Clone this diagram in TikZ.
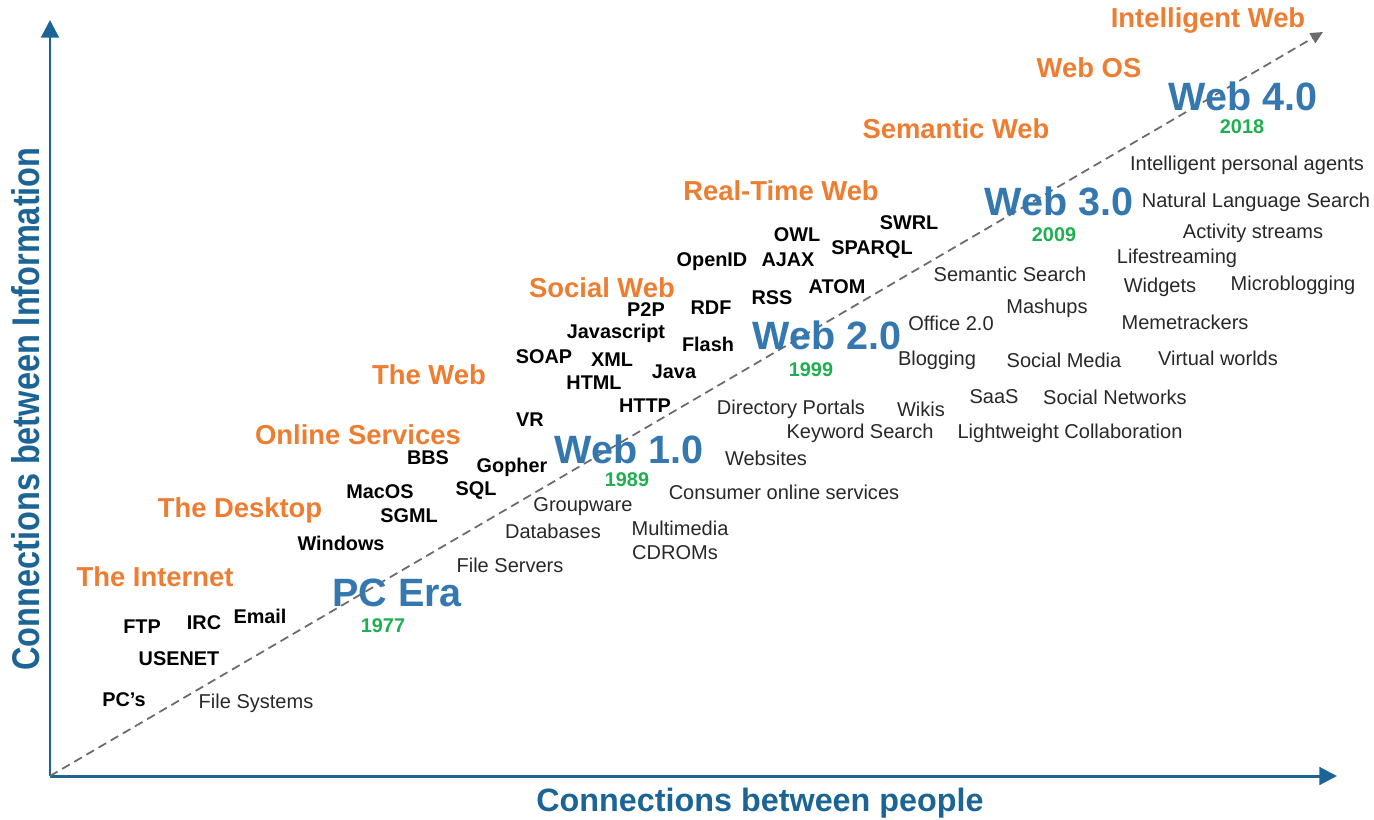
\documentclass[tikz,border=0pt]{standalone}
\usepackage{fontspec}
\setmainfont{Liberation Sans}
\usetikzlibrary{arrows.meta}

\definecolor{axisblue}{RGB}{28,100,150}
\definecolor{erablue}{RGB}{52,120,175}
\definecolor{stageorange}{RGB}{237,125,49}
\definecolor{yeargreen}{RGB}{30,175,80}
\definecolor{termgray}{RGB}{40,40,40}

\begin{document}
\begin{tikzpicture}[x=0.02cm,y=-0.02cm,
  axis/.style={draw=axisblue,line width=1.7pt,-{Triangle[length=10pt,width=10pt]}},
  trend/.style={draw=black!58,line width=1pt,dash pattern=on 5pt off 3pt,-{Triangle[length=7pt,width=6.5pt]}},
  axislabel/.style={text=axisblue,font=\fontsize{18.4}{20}\selectfont\bfseries},
  stage/.style={text=stageorange,font=\fontsize{15.6}{18}\selectfont\bfseries},
  era/.style={text=erablue,font=\fontsize{22.5}{26}\selectfont\bfseries},
  year/.style={text=yeargreen,font=\fontsize{11.3}{13}\selectfont\bfseries},
  tech/.style={text=black,font=\fontsize{11.3}{13}\selectfont\bfseries},
  app/.style={text=termgray,font=\fontsize{11.4}{13}\selectfont}]
\useasboundingbox (0,0) rectangle (1374,819);

% Axes
\coordinate (origin) at (50,776);
\coordinate (ytop) at (50,20);
\coordinate (xend) at (1337,776);
\coordinate (trendend) at (1323,32);
\draw[axis] (origin) -- (ytop);
\draw[axis] (origin) -- (xend);
\draw[trend] (origin) -- (trendend);

% Axis titles
\node[axislabel] (xlabel) at (760,803) {Connections between people};
\node[axislabel,rotate=90,font=\fontsize{22}{24}\selectfont\bfseries] (ylabel) at (26,409)
  {\scalebox{0.84}[1]{Connections between Information}};

% Stages of the web
\node[stage] (intweb) at (1208,20) {Intelligent Web};
\node[stage] (webos) at (1089,68) {Web OS};
\node[stage] (semweb) at (956,129) {Semantic Web};
\node[stage] (rtweb) at (781,191) {Real-Time Web};
\node[stage] (socweb) at (602,288) {Social Web};
\node[stage] (theweb) at (429,375) {The Web};
\node[stage] (online) at (358,435) {Online Services};
\node[stage] (desktop) at (240,510) {The Desktop};
\node[stage] (internet) at (155,577) {The Internet};

% Eras and years
\node[era] (web4) at (1243,96) {Web 4.0};
\node[year] (y2018) at (1242,127) {2018};
\node[era] (web3) at (1059,201) {Web 3.0};
\node[year] (y2009) at (1054,235) {2009};
\node[era] (web2) at (827,335) {Web 2.0};
\node[year] (y1999) at (811,370) {1999};
\node[era] (web1) at (629,449) {Web 1.0};
\node[year] (y1989) at (627,480) {1989};
\node[era] (pcera) at (397,593) {PC Era};
\node[year] (y1977) at (383,626) {1977};

% Technologies (above the line)
\node[tech] (ftp) at (142,627) {FTP};
\node[tech] (irc) at (204,623) {IRC};
\node[tech] (email) at (260,616) {Email};
\node[tech] (usenet) at (179,659) {USENET};
\node[tech] (pcs) at (124,700) {PC’s};
\node[tech] (windows) at (341,543) {Windows};
\node[tech] (sgml) at (409,516) {SGML};
\node[tech] (macos) at (380,492) {MacOS};
\node[tech] (bbs) at (428,458) {BBS};
\node[tech] (sql) at (476,491) {SQL};
\node[tech] (gopher) at (512,467) {Gopher};
\node[tech] (vr) at (530,420) {VR};
\node[tech] (http) at (645,406) {HTTP};
\node[tech] (html) at (594,383) {HTML};
\node[tech] (soap) at (544,357) {SOAP};
\node[tech] (xml) at (612,360) {XML};
\node[tech] (java) at (674,372) {Java};
\node[tech] (javascript) at (616,333) {Javascript};
\node[tech] (ptp) at (646,310) {P2P};
\node[tech] (flash) at (708,344) {Flash};
\node[tech] (rdf) at (711,308) {RDF};
\node[tech] (openid) at (712,262) {OpenID};
\node[tech] (rss) at (772,298) {RSS};
\node[tech] (ajax) at (788,260) {AJAX};
\node[tech] (owl) at (797,235) {OWL};
\node[tech] (atom) at (837,287) {ATOM};
\node[tech] (sparql) at (872,250) {SPARQL};
\node[tech] (swrl) at (909,223) {SWRL};

% Applications (below the line)
\node[app] (filesys) at (256,703) {File Systems};
\node[app] (fileserv) at (510,565) {File Servers};
\node[app] (groupware) at (583,507) {Groupware};
\node[app] (databases) at (553,531) {Databases};
\node[app] (multimedia) at (680,528) {Multimedia};
\node[app] (cdroms) at (675,553) {CDROMs};
\node[app] (consumer) at (784,492) {Consumer online services};
\node[app] (websites) at (766,458) {Websites};
\node[app] (keyword) at (860,433) {Keyword Search};
\node[app] (portals) at (791,409) {Directory Portals};
\node[app] (wikis) at (921,409) {Wikis};
\node[app] (lightweight) at (1070,433) {Lightweight Collaboration};
\node[app] (saas) at (994,397) {SaaS};
\node[app] (socnet) at (1115,397) {Social Networks};
\node[app] (blogging) at (937,360) {Blogging};
\node[app] (socmedia) at (1064,360) {Social Media};
\node[app] (virtual) at (1218,358) {Virtual worlds};
\node[app] (office) at (951,323) {Office 2.0};
\node[app] (mashups) at (1047,308) {Mashups};
\node[app] (meme) at (1185,322) {Memetrackers};
\node[app] (semsearch) at (1010,274) {Semantic Search};
\node[app] (widgets) at (1160,287) {Widgets};
\node[app] (microblog) at (1293,285) {Microblogging};
\node[app] (lifestream) at (1177,258) {Lifestreaming};
\node[app] (activity) at (1253,233) {Activity streams};
\node[app] (nlsearch) at (1256,202) {Natural Language Search};
\node[app] (agents) at (1247,165) {Intelligent personal agents};
\end{tikzpicture}
\end{document}
